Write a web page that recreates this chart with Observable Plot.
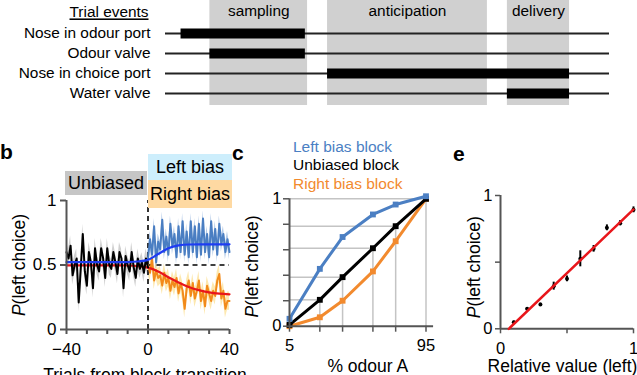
<!DOCTYPE html>
<html>
<head>
<meta charset="utf-8">
<script src="https://cdn.jsdelivr.net/npm/d3@7"></script>
<script src="https://cdn.jsdelivr.net/npm/@observablehq/plot@0.6"></script>
<style>
  body { margin: 0; background: #fff; }
  #fig { position: relative; width: 637px; height: 375px; overflow: hidden; background: #fff;
         font-family: "Liberation Sans", Arial, Helvetica, sans-serif; }
  #fig .lab { position: absolute; white-space: nowrap; }
</style>
</head>
<body>
<div id="fig"></div>
<script>
// ---------------- data ----------------
// panel a : trial events (time in arbitrary units 0..100)
const eventRows  = ["Nose in odour port", "Odour valve", "Nose in choice port", "Water valve"];
const eventStart = [3.5, 10, 36.5, 77];
const eventEnd   = [31.5, 31.5, 91, 91];
const epochNames = ["sampling", "anticipation", "delivery"];
const epochStart = [10, 36.5, 77];
const epochEnd   = [32, 72.5, 91];
const trialSpan  = [0, 100];

// panel b : P(left choice) around block transition
const unbiasedTrials = d3.range(-40, 1);
const biasTrials     = d3.range(0, 41);
const unbiasedP = [0.60, 0.55, 0.65, 0.42, 0.50, 0.55, 0.21, 0.47, 0.74, 0.45,
                   0.34, 0.60, 0.52, 0.32, 0.63, 0.50, 0.45, 0.63, 0.55, 0.40,
                   0.63, 0.50, 0.47, 0.60, 0.52, 0.43, 0.60, 0.55, 0.32, 0.57,
                   0.50, 0.45, 0.60, 0.48, 0.40, 0.55, 0.47, 0.52, 0.44, 0.55, 0.48];
const leftBiasP = [0.55, 0.70, 0.58, 0.80, 0.52, 0.68, 0.62, 0.85, 0.60, 0.72,
                   0.58, 0.82, 0.64, 0.74, 0.56, 0.80, 0.60, 0.84, 0.58, 0.76,
                   0.56, 0.84, 0.60, 0.80, 0.56, 0.82, 0.58, 0.86, 0.60, 0.74,
                   0.56, 0.84, 0.62, 0.78, 0.58, 0.82, 0.66, 0.74, 0.60, 0.70, 0.60];
const rightBiasP = [0.50, 0.44, 0.55, 0.38, 0.46, 0.40, 0.42, 0.34, 0.44, 0.36,
                    0.40, 0.30, 0.38, 0.33, 0.40, 0.28, 0.36, 0.30, 0.16, 0.32,
                    0.38, 0.26, 0.36, 0.24, 0.30, 0.38, 0.22, 0.30, 0.18, 0.34,
                    0.28, 0.22, 0.30, 0.26, 0.38, 0.43, 0.24, 0.30, 0.16, 0.22, 0.22];
const unbiasedSE = 0.075, leftBiasSE = 0.06, rightBiasSE = 0.07;
const fitTrials = [-40, -35, -30, -25, -20, -15, -10, -5, 0, 5, 10, 15, 20, 25, 30, 35, 40];
const leftFit  = [0.522, 0.522, 0.522, 0.522, 0.522, 0.522, 0.523, 0.527, 0.54, 0.585, 0.63, 0.652, 0.659, 0.66, 0.66, 0.66, 0.66];
const rightFit = [0.497, 0.497, 0.497, 0.497, 0.497, 0.497, 0.496, 0.492, 0.48, 0.45, 0.405, 0.365, 0.33, 0.305, 0.288, 0.278, 0.273];
const bXTicks = [-40, -30, -20, -10, 0, 10, 20, 30, 40];
const bXTickLabels = ["\u221240", "", "", "", "0", "", "", "", "40"];
const bYTicks = [0, 0.5, 1];
const bYTickLabels = ["0", "0.5", "1"];

// panel c : psychometric curves
const odourA   = [5, 25, 40, 60, 75, 95];
const leftBlock  = [0.058, 0.45, 0.70, 0.877, 0.955, 1.02];
const unbBlock   = [0.01, 0.207, 0.385, 0.612, 0.785, 1.0];
const rightBlock = [0.0, 0.07, 0.20, 0.43, 0.667, 1.0];
const cXTickLabels = ["5", "", "", "", "", "95"];
const cYTicks = [0, 0.2, 0.4, 0.6, 0.8, 1];
const cYTickLabels = ["0", "", "", "", "", "1"];

// panel e : relative value
const relValue = [0.1, 0.2, 0.3, 0.4, 0.5, 0.6, 0.7, 0.8, 0.9, 1.0];
const pLeft    = [0.05, 0.15, 0.1825, 0.32, 0.375, 0.525, 0.60, 0.7575, 0.7925, 0.8925];
const pErr     = [0.008, 0.01, 0.01, 0.03, 0.022, 0.06, 0.025, 0.022, 0.02, 0.022];
const fitSlope = 0.955, fitIntercept = -0.0597, fitXRange = [0.0625, 1];
const eTicks = [0, 0.5, 1];
const eTickLabels = ["0", "", "1"];

// ---------------- helpers ----------------
const fontFamily = '"Liberation Sans", Arial, Helvetica, sans-serif';
const fig = document.getElementById("fig");
const AX = "#555";
function place(svg, left, top) {
  svg.style.position = "absolute";
  svg.style.left = left + "px";
  svg.style.top = top + "px";
  fig.appendChild(svg);
  return svg;
}
function label(text, x, yc, size, opts = {}) {
  const d = document.createElement("div");
  d.className = "lab";
  d.textContent = text;
  d.style.fontSize = size + "px";
  d.style.lineHeight = size + "px";
  d.style.top = (yc - size / 2) + "px";
  if (opts.anchor === "end") { d.style.right = (637 - x) + "px"; }
  else { d.style.left = x + "px"; }
  if (opts.color) d.style.color = opts.color;
  if (opts.bold) d.style.fontWeight = "bold";
  fig.appendChild(d);
  return d;
}
function box(text, x, y, w, h, bg, size) {
  const d = document.createElement("div");
  d.className = "lab";
  Object.assign(d.style, {left: x + "px", top: y + "px", width: w + "px", height: h + "px",
    background: bg, fontSize: size + "px", lineHeight: h + "px", textAlign: "center"});
  d.textContent = text;
  fig.appendChild(d);
}
function italicP(svg) {
  d3.select(svg).selectAll("text").filter(function () { return this.textContent === "P(left choice)"; })
    .each(function () {
      this.textContent = "";
      d3.select(this).append("tspan").attr("font-style", "italic").text("P");
      d3.select(this).append("tspan").text("(left choice)");
    });
}
const baseStyle = size => ({fontFamily, fontSize: size + "px", background: "transparent", overflow: "visible", color: "#000"});

// ---------------- panel a ----------------
const rows = eventRows.map((name, i) => ({name, start: eventStart[i], end: eventEnd[i]}));
const epochs = epochNames.map((name, i) => ({name, start: epochStart[i], end: epochEnd[i]}));
const panelA = Plot.plot({
  width: 637, height: 110, marginLeft: 165, marginRight: 28, marginTop: 0, marginBottom: 5,
  style: baseStyle(15.4),
  x: {domain: trialSpan, axis: null},
  y: {type: "point", domain: eventRows, range: [32, 94], padding: 0},
  marks: [
    Plot.rect(epochs, {x1: "start", x2: "end", fill: "#d0d0d0"}),
    Plot.text(epochs, {x: d => (d.start + d.end) / 2, text: "name", frameAnchor: "top", dy: 11, lineAnchor: "middle", fontSize: 15.4}),
    Plot.ruleY(eventRows, {y: d => d, x1: trialSpan[0], x2: trialSpan[1], stroke: "#222", strokeWidth: 2}),
    Plot.ruleY(rows, {y: "name", x1: "start", x2: "end", stroke: "#000", strokeWidth: 10}),
    Plot.axisY({tickSize: 0, tickPadding: 15, fontSize: 15.4, label: null}),
    Plot.text(["Trial events"], {frameAnchor: "top-left", dx: -17, dy: 12, textAnchor: "end", lineAnchor: "middle", fontSize: 15.4})
  ]
});
d3.select(panelA).selectAll("text").filter(function () { return this.textContent === "Trial events"; })
  .style("text-decoration", "underline");
place(panelA, 0, 0);

// ---------------- panel b ----------------
const unbData = unbiasedTrials.map((t, i) => ({t, p: unbiasedP[i]}));
const leftData = biasTrials.map((t, i) => ({t, p: leftBiasP[i]}));
const rightData = biasTrials.map((t, i) => ({t, p: rightBiasP[i]}));
const leftFitData = fitTrials.map((t, i) => ({t, p: leftFit[i]}));
const rightFitData = fitTrials.map((t, i) => ({t, p: rightFit[i]}));
const bXMap = new Map(bXTicks.map((v, i) => [v, bXTickLabels[i]]));
const bYMap = new Map(bYTicks.map((v, i) => [v, bYTickLabels[i]]));
const panelB = Plot.plot({
  width: 240, height: 235, marginLeft: 66, marginRight: 11, marginTop: 60, marginBottom: 46,
  style: baseStyle(17),
  x: {domain: [-40, 40]},
  y: {domain: [0, 1]},
  marks: [
    Plot.areaY(unbData, {x: "t", y1: d => d.p - unbiasedSE, y2: d => d.p + unbiasedSE, fill: "#c8c8c8", fillOpacity: 0.85}),
    Plot.areaY(rightData, {x: "t", y1: d => d.p - rightBiasSE, y2: d => d.p + rightBiasSE, fill: "#fde6a6", fillOpacity: 0.9}),
    Plot.areaY(leftData, {x: "t", y1: d => d.p - leftBiasSE, y2: d => d.p + leftBiasSE, fill: "#8fb1dd", fillOpacity: 0.7}),
    Plot.ruleY([0.5], {x1: 0, x2: 40, stroke: "#000", strokeWidth: 1.5, strokeDasharray: "5,4"}),
    Plot.ruleX([0], {y1: 0, y2: 1, stroke: "#333", strokeWidth: 2, strokeDasharray: "5,4"}),
    Plot.line(leftData, {x: "t", y: "p", stroke: "#4a7ec2", strokeWidth: 2}),
    Plot.line(rightData, {x: "t", y: "p", stroke: "#f28a1a", strokeWidth: 2}),
    Plot.line(rightFitData, {x: "t", y: "p", stroke: "#e8161b", strokeWidth: 2.2, curve: "monotone-x"}),
    Plot.line(unbData, {x: "t", y: "p", stroke: "#000", strokeWidth: 2}),
    Plot.line(leftFitData, {x: "t", y: "p", stroke: "#1e3cf2", strokeWidth: 2.2, curve: "monotone-x"}),
    Plot.ruleX([-40], {y1: 0, y2: 1, stroke: AX, strokeWidth: 2}),
    Plot.ruleY([0], {x1: -40, x2: 40, stroke: AX, strokeWidth: 2}),
    Plot.axisX({ticks: bXTicks, tickSize: 5, tickPadding: 8, tickFormat: d => bXMap.get(d), stroke: AX, strokeWidth: 2, label: null, fontSize: 17}),
    Plot.axisY({ticks: bYTicks, tickSize: 6, tickPadding: 4, tickFormat: d => bYMap.get(d), stroke: AX, strokeWidth: 2, label: null, fontSize: 17}),
    Plot.text(["P(left choice)"], {frameAnchor: "left", dx: -47, rotate: -90, textAnchor: "middle", lineAnchor: "middle", fontSize: 17.5}),
    Plot.text(["Trials from block transition"], {frameAnchor: "bottom", dx: -3, dy: 39, textAnchor: "middle", lineAnchor: "top", fontSize: 17.5})
  ]
});
italicP(panelB);
place(panelB, 0, 140);
box("Unbiased", 65, 171, 82, 24, "#c6c6c6", 18);
box("Left bias", 148, 154, 84, 26, "#cdeefc", 18);
box("Right bias", 148, 180, 84, 28, "#fed9a2", 18);

// ---------------- panel c ----------------
const cData = odourA.map((x, i) => ({x, left: leftBlock[i], unb: unbBlock[i], right: rightBlock[i]}));
const cXMap = new Map(odourA.map((v, i) => [v, cXTickLabels[i]]));
const cYMap = new Map(cYTicks.map((v, i) => [v, cYTickLabels[i]]));
const cBlue = "#4b7fc3", cOrange = "#f28a2e";
const panelC = Plot.plot({
  width: 210, height: 235, marginLeft: 59, marginRight: 14.5, marginTop: 58.3, marginBottom: 49.3,
  style: baseStyle(16.5),
  x: {domain: [odourA[0], odourA[odourA.length - 1]]},
  y: {domain: [0, 1]},
  marks: [
    Plot.ruleY(cData, {y: "unb", x1: odourA[0], x2: "x", stroke: "#c4c4c4", strokeWidth: 1.5}),
    Plot.ruleX(cData, {x: "x", y1: 0, y2: "unb", stroke: "#c4c4c4", strokeWidth: 1.5}),
    Plot.line(cData, {x: "x", y: "right", stroke: cOrange, strokeWidth: 3}),
    Plot.dot(cData, {x: "x", y: "right", symbol: "square", r: 3.3, fill: cOrange}),
    Plot.line(cData, {x: "x", y: "unb", stroke: "#000", strokeWidth: 3}),
    Plot.dot(cData, {x: "x", y: "unb", symbol: "square", r: 3.3, fill: "#000"}),
    Plot.line(cData, {x: "x", y: "left", stroke: cBlue, strokeWidth: 3}),
    Plot.dot(cData, {x: "x", y: "left", symbol: "square", r: 3.3, fill: cBlue}),
    Plot.ruleX([odourA[0]], {y1: 0, y2: 1, stroke: AX, strokeWidth: 2}),
    Plot.ruleY([0], {x1: odourA[0], x2: 100, stroke: AX, strokeWidth: 2}),
    Plot.axisX({ticks: odourA, tickSize: 6, tickPadding: 7, tickFormat: d => cXMap.get(d), stroke: AX, strokeWidth: 1.5, label: null, fontSize: 16.5}),
    Plot.axisY({ticks: cYTicks, tickSize: 6, tickPadding: 2, tickFormat: d => cYMap.get(d), stroke: AX, strokeWidth: 1.5, label: null, fontSize: 16.5}),
    Plot.text(["P(left choice)"], {frameAnchor: "left", dx: -37, dy: 4, rotate: -90, textAnchor: "middle", lineAnchor: "middle", fontSize: 17.5}),
    Plot.text(["% odour A"], {frameAnchor: "bottom", dx: 10, dy: 40, textAnchor: "middle", lineAnchor: "middle", fontSize: 17.5})
  ]
});
italicP(panelC);
place(panelC, 230, 140);
label("Left bias block", 293, 147, 15.5, {color: cBlue});
label("Unbiased block", 293, 164.5, 15.5, {color: "#000"});
label("Right bias block", 293, 183.5, 15.5, {color: cOrange});

// ---------------- panel e ----------------
const eData = relValue.map((x, i) => ({x, p: pLeft[i], err: pErr[i]}));
const eFit = fitXRange.map(x => ({x, p: fitSlope * x + fitIntercept}));
const eMap = new Map(eTicks.map((v, i) => [v, eTickLabels[i]]));
const panelE = Plot.plot({
  width: 197, height: 235, marginLeft: 60, marginRight: 4, marginTop: 55, marginBottom: 46.7,
  style: baseStyle(16.5),
  x: {domain: [0, 1]},
  y: {domain: [0, 1]},
  marks: [
    Plot.ruleX([0], {y1: 0, y2: 1, stroke: AX, strokeWidth: 2}),
    Plot.ruleY([0], {x1: 0, x2: 1, stroke: AX, strokeWidth: 2}),
    Plot.axisX({ticks: eTicks, tickSize: 5, tickPadding: 8, tickFormat: d => eMap.get(d), stroke: AX, strokeWidth: 1.5, label: null, fontSize: 16.5}),
    Plot.axisY({ticks: eTicks, tickSize: 5, tickPadding: 3, tickFormat: d => eMap.get(d), stroke: AX, strokeWidth: 1.5, label: null, fontSize: 16.5}),
    Plot.ruleX(eData, {x: "x", y1: d => d.p - d.err, y2: d => d.p + d.err, stroke: "#000", strokeWidth: 2}),
    Plot.dot(eData, {x: "x", y: "p", r: 2, fill: "#000"}),
    Plot.line(eFit, {x: "x", y: "p", stroke: "#e8161b", strokeWidth: 2.5}),
    Plot.text(["P(left choice)"], {frameAnchor: "left", dx: -26.5, dy: 5, rotate: -90, textAnchor: "middle", lineAnchor: "middle", fontSize: 17.5}),
    Plot.text(["Relative value (left)"], {frameAnchor: "bottom", dx: -4.5, dy: 38, textAnchor: "middle", lineAnchor: "middle", fontSize: 17.5})
  ]
});
italicP(panelE);
place(panelE, 440, 140);

// panel letters
label("b", 0, 151, 21, {bold: true});
label("c", 232, 152, 21, {bold: true});
label("e", 453, 153, 21, {bold: true});
</script>
</body>
</html>
